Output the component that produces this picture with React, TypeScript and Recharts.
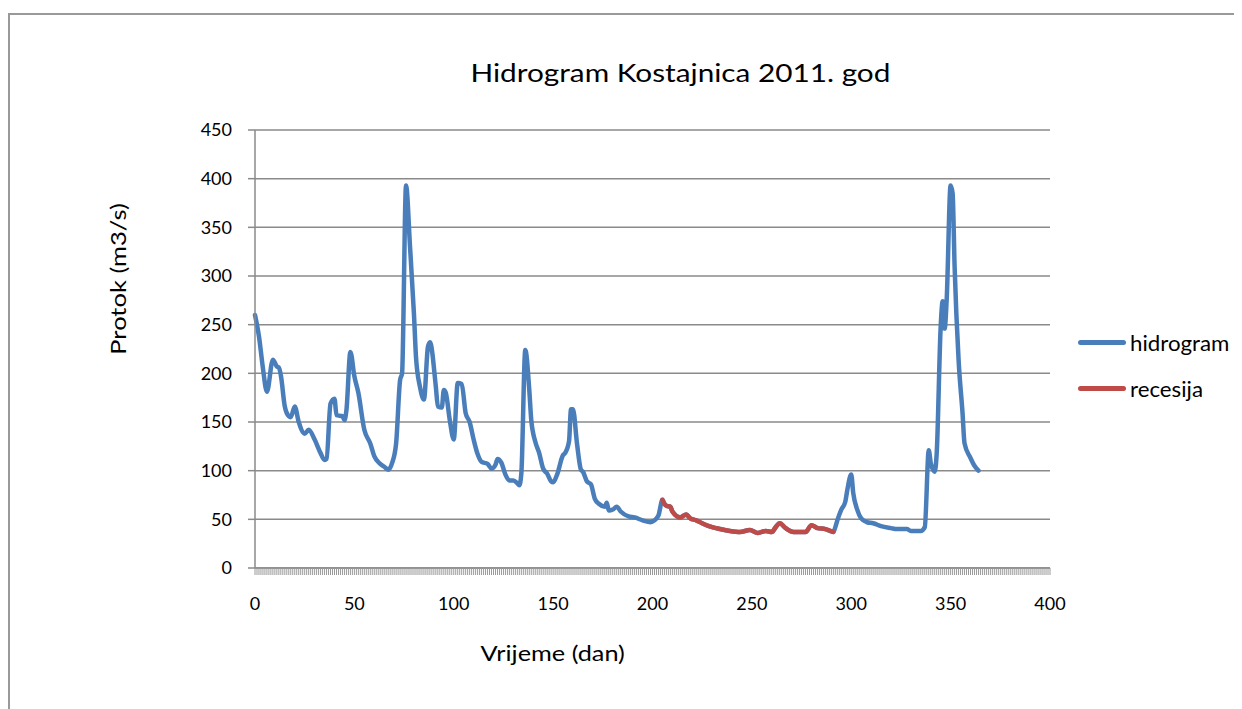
import React from 'react';
import { LineChart, Line, XAxis, YAxis, CartesianGrid } from 'recharts';

// hidrogram before the recession segment (day, m3/s)
const daysBefore = [0, 2, 4, 6, 9, 11, 12, 13, 15, 17, 18, 20, 22, 25, 27, 30, 33, 35, 36, 38, 40, 41, 44, 45, 46, 48, 50, 52, 55, 58, 60, 63, 65, 67, 69, 71, 73, 74, 76, 78, 80, 81, 83, 85, 87, 88, 91, 92, 94, 95, 96, 98, 100, 102, 104, 106, 108, 110, 112, 114, 117, 119, 121, 122, 124, 126, 128, 130, 132, 133, 134, 136, 138, 139, 141, 143, 145, 147, 149, 150, 152, 155, 156, 158, 159, 160, 162, 164, 165, 167, 169, 171, 173, 176, 177, 178, 180, 182, 184, 188, 191, 195, 199, 201, 203];
const flowBefore = [260, 238, 205, 181, 214, 207, 206, 198, 166, 156, 155, 166, 150, 138, 142, 132, 118, 111, 112, 169, 174, 157, 156, 152, 162, 222, 197, 180, 142, 128, 115, 107, 104, 101, 108, 128, 193, 200, 393, 330, 260, 217, 186, 173, 227, 232, 186, 166, 165, 183, 180, 152, 132, 190, 189, 159, 150, 132, 117, 109, 107, 102, 106, 112, 108, 96, 90, 90, 87, 85, 97, 224, 183, 152, 130, 118, 102, 97, 89, 88, 96, 116, 118, 130, 163, 163, 128, 101, 99, 89, 86, 71, 66, 63, 67, 59, 60, 63, 58, 53, 52, 49, 47, 49, 54];

// recession segment
const daysRecession = [205, 206, 207, 209, 210, 214, 217, 219, 222, 226, 230, 234, 239, 244, 249, 253, 257, 260, 262, 264, 267, 271, 277, 280, 283, 287, 291];
const flowRecession = [70, 66, 64, 63, 58, 52, 55, 51, 49, 45, 42, 40, 38, 37, 39, 36, 38, 37, 42, 46, 41, 37, 37, 44, 41, 40, 37];

// hidrogram after the recession segment
const daysAfter = [292, 293, 295, 297, 298, 300, 301, 303, 305, 308, 311, 315, 320, 323, 328, 330, 335, 337, 339, 340, 342, 343, 345, 346, 347, 348, 350, 351, 352, 354, 356, 357, 360, 362, 364];
const flowAfter = [42, 49, 60, 68, 80, 96, 77, 60, 51, 47, 46, 43, 41, 40, 40, 38, 38, 42, 121, 108, 99, 118, 248, 274, 246, 275, 393, 385, 310, 214, 159, 128, 113, 105, 100];

const xTicks = [0, 50, 100, 150, 200, 250, 300, 350, 400];
const yTicks = [0, 50, 100, 150, 200, 250, 300, 350, 400, 450];
const minorTicks = Array.from({ length: 401 }, (_, i) => i);

const BLUE = '#4A7EBB';
const RED = '#BE4B48';
const AXIS = '#8A8A8A';
const FONT = 'Lato, "Liberation Sans", sans-serif';

const toRows = (days: number[], flow: number[]) => days.map((day, i) => ({ day, flow: flow[i] }));

const hidrogram = [
  ...toRows(daysBefore, flowBefore),
  ...toRows(daysRecession, flowRecession),
  ...toRows(daysAfter, flowAfter),
];
const recesija = toRows(daysRecession, flowRecession);

// every day gets a tick mark, only the xTicks get a label
const DayTick = (props: any) => {
  const { x, y, payload } = props;
  if (!xTicks.includes(payload.value)) return <g />;
  return (
    <text x={x} y={y} dy="0.71em" textAnchor="middle" fill="#000" fontSize={18} fontFamily={FONT}>
      {payload.value}
    </text>
  );
};

export default function App() {
  return (
    <div style={{ position: 'relative', width: 1234, height: 701, fontFamily: FONT, color: '#000' }}>
      <style>{'body{overflow:hidden}'}</style>
      {/* chart frame */}
      <div style={{ position: 'absolute', left: 0, top: 5, right: -8, bottom: -8, borderLeft: '2px solid #999', borderTop: '2px solid #999' }} />

      <div style={{ position: 'absolute', left: 0, width: 1344, top: 48, textAlign: 'center', fontSize: 25, lineHeight: '32px' }}>
        <span style={{ display: 'inline-block', transform: 'scaleX(1.19)' }}>Hidrogram Kostajnica 2011. god</span>
      </div>

      <div style={{ position: 'absolute', left: 109, top: 271, width: 0, height: 0 }}>
        <div style={{ position: 'absolute', transform: 'translate(-50%, -50%) rotate(-90deg) scaleX(1.16)', whiteSpace: 'nowrap', fontSize: 22 }}>
          Protok (m3/s)
        </div>
      </div>

      <div style={{ position: 'absolute', left: 445, width: 200, top: 631, textAlign: 'center', fontSize: 22, lineHeight: '28px' }}>
        <span style={{ display: 'inline-block', transform: 'scaleX(1.15)' }}>Vrijeme (dan)</span>
      </div>

      <LineChart width={1234} height={701} margin={{ top: 122, right: 192, left: 187, bottom: 81 }}>
        <CartesianGrid horizontal vertical={false} stroke={AXIS} strokeWidth={1.5} />
        <XAxis
          type="number"
          dataKey="day"
          domain={[0, 400]}
          ticks={minorTicks}
          interval={0}
          tickSize={7}
          tickMargin={22}
          axisLine={{ stroke: AXIS, strokeWidth: 1.5 }}
          tickLine={{ stroke: '#9a9a9a', strokeWidth: 1 }}
          tick={DayTick}
          height={60}
        />
        <YAxis
          type="number"
          domain={[0, 450]}
          ticks={yTicks}
          interval={0}
          width={60}
          tickSize={7}
          tickMargin={16}
          axisLine={{ stroke: AXIS, strokeWidth: 1.5 }}
          tickLine={{ stroke: AXIS, strokeWidth: 1.5 }}
          tick={{ fill: '#000', fontSize: 18, fontFamily: FONT }}
        />
        <Line
          data={hidrogram}
          dataKey="flow"
          type="monotone"
          stroke={BLUE}
          strokeWidth={4.5}
          strokeLinejoin="round"
          strokeLinecap="round"
          dot={false}
          isAnimationActive={false}
        />
        <Line
          data={recesija}
          dataKey="flow"
          type="monotone"
          stroke={RED}
          strokeWidth={4.5}
          strokeLinejoin="round"
          strokeLinecap="round"
          dot={false}
          isAnimationActive={false}
        />
      </LineChart>

      {/* legend */}
      {[
        { name: 'hidrogram', color: BLUE, y: 334 },
        { name: 'recesija', color: RED, y: 380 },
      ].map((item) => (
        <div key={item.name} style={{ position: 'absolute', left: 1070, top: item.y - 14, height: 28, display: 'flex', alignItems: 'center', fontSize: 21 }}>
          <div style={{ width: 48, height: 5, borderRadius: 3, background: item.color, marginRight: 4 }} />
          <span style={{ display: 'inline-block', transform: 'scaleX(1.06)', transformOrigin: 'left center' }}>{item.name}</span>
        </div>
      ))}
    </div>
  );
}
